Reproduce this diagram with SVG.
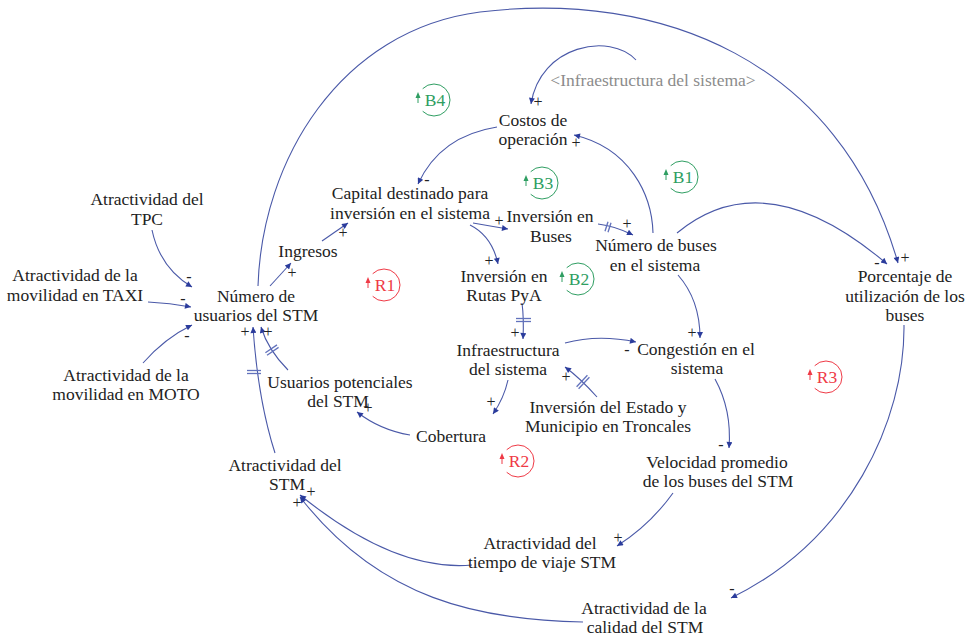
<svg xmlns="http://www.w3.org/2000/svg" width="970" height="637" viewBox="0 0 970 637" font-family="'Liberation Serif', 'Times New Roman', 'DejaVu Serif', serif">
<defs>
<style>
text{font-family:'Liberation Serif','Times New Roman','DejaVu Serif',serif}
.t{font-size:17.5px;fill:#222;text-anchor:middle}
.g{fill:#8c8c8c}
.p{font-size:16px;fill:#222;text-anchor:middle}
.c{fill:none;stroke:#4a59a8;stroke-width:1.1}
.d{stroke:#6272bc;stroke-width:1.3}
.lg{fill:none;stroke:#2f9e62;stroke-width:1}
.lr{fill:none;stroke:#ef3a46;stroke-width:1}
.tg{font-size:17.5px;fill:#2f9e62;text-anchor:middle}
.tr{font-size:17.5px;fill:#ef3a46;text-anchor:middle}
</style>
<marker id="ah" viewBox="0 0 10 10" refX="10" refY="5" markerWidth="8" markerHeight="6" markerUnits="userSpaceOnUse" orient="auto">
<path d="M0,0 L10,5 L0,10 z" fill="#2b3c9c"/>
</marker>
</defs>
<rect width="970" height="637" fill="#fff"/>

<g id="connectors">
<path class="c" marker-end="url(#ah)" d="M152,230 Q160,268 192,287"/>
<path class="c" marker-end="url(#ah)" d="M148,302 Q170,303 191,307"/>
<path class="c" marker-end="url(#ah)" d="M143,363 Q165,338 192,325"/>
<path class="c" marker-end="url(#ah)" d="M270,286 L291,263"/>
<path class="c" marker-end="url(#ah)" d="M322,241 L348,223"/>
<path class="c" marker-end="url(#ah)" d="M497,127 Q440,136 418,184"/>
<path class="c" marker-end="url(#ah)" d="M473,223 Q490,226 508,229"/>
<path class="c" marker-end="url(#ah)" d="M470,225 Q492,236 498,264"/>
<path class="c" marker-end="url(#ah)" d="M598,224 Q615,226 633,235"/>
<path class="c" marker-end="url(#ah)" d="M653,233 C652,195 630,148 574,135"/>
<path class="c" marker-end="url(#ah)" d="M636,60 C610,32 540,45 531,104"/>
<path class="c" marker-end="url(#ah)" d="M677,233 Q765,160 887,264"/>
<path class="c" marker-end="url(#ah)" d="M258,286 C262,160 340,30 480,12 C660,-10 840,60 898,263"/>
<path class="c" marker-end="url(#ah)" d="M678,275 Q700,300 700,338"/>
<path class="c" marker-end="url(#ah)" d="M522,303 Q524,318 523,339"/>
<path class="c" marker-end="url(#ah)" d="M565,343 Q598,334 636,342"/>
<path class="c" marker-end="url(#ah)" d="M597,397 Q580,378 565,367"/>
<path class="c" marker-end="url(#ah)" d="M508,380 Q504,398 493,414"/>
<path class="c" marker-end="url(#ah)" d="M410,435 Q380,430 357,412"/>
<path class="c" marker-end="url(#ah)" d="M288,370 Q268,350 261,327"/>
<path class="c" marker-end="url(#ah)" d="M275,453 Q258,400 253,327"/>
<path class="c" marker-end="url(#ah)" d="M715,379 Q732,410 729,448"/>
<path class="c" marker-end="url(#ah)" d="M673,493 Q650,525 617,546"/>
<path class="c" marker-end="url(#ah)" d="M472,565 Q395,572 300,495"/>
<path class="c" marker-end="url(#ah)" d="M583,622 C480,620 380,600 300,497"/>
<path class="c" marker-end="url(#ah)" d="M904,325 C905,420 850,540 731,598"/>
<g id="delays">
<line class="d" x1="608" y1="221.7" x2="605" y2="231.3"/>
<line class="d" x1="611" y1="222.7" x2="608" y2="232.3"/>
<line class="d" x1="516" y1="318.5" x2="531" y2="318.5"/>
<line class="d" x1="516" y1="321.5" x2="531" y2="321.5"/>
<line class="d" x1="587.4" y1="375.2" x2="576.6" y2="386.8"/>
<line class="d" x1="589.4" y1="377.2" x2="578.6" y2="388.8"/>
<line class="d" x1="277" y1="344.9" x2="265.4" y2="352.7"/>
<line class="d" x1="278.6" y1="347.4" x2="267" y2="355.2"/>
<line class="d" x1="247" y1="370.5" x2="261" y2="370.5"/>
<line class="d" x1="247" y1="373.5" x2="261" y2="373.5"/>
</g>
<g id="polarities">
<text class="p" x="189" y="282">-</text>
<text class="p" x="183" y="304">-</text>
<text class="p" x="187" y="341">-</text>
<text class="p" x="292" y="278">+</text>
<text class="p" x="343" y="238">+</text>
<text class="p" x="427" y="185">-</text>
<text class="p" x="499" y="226">+</text>
<text class="p" x="489" y="266">+</text>
<text class="p" x="627" y="229">+</text>
<text class="p" x="576" y="148">+</text>
<text class="p" x="538" y="107">+</text>
<text class="p" x="877" y="268">-</text>
<text class="p" x="905" y="263">+</text>
<text class="p" x="692" y="338">+</text>
<text class="p" x="627" y="355">-</text>
<text class="p" x="515" y="338">+</text>
<text class="p" x="566" y="382">+</text>
<text class="p" x="491" y="407">+</text>
<text class="p" x="368" y="413">+</text>
<text class="p" x="245" y="337">+</text>
<text class="p" x="268" y="337">+</text>
<text class="p" x="721" y="450">-</text>
<text class="p" x="618" y="543">+</text>
<text class="p" x="311" y="497">+</text>
<text class="p" x="297" y="508">+</text>
<text class="p" x="732" y="594">-</text>
</g>
</g>

<g id="n_tpc"><text class="t"><tspan x="147" y="205">Atractividad del</tspan><tspan x="147" y="225">TPC</tspan></text></g>
<g id="n_taxi"><text class="t"><tspan x="75" y="281">Atractividad de la</tspan><tspan x="75" y="301">movilidad en TAXI</tspan></text></g>
<g id="n_moto"><text class="t"><tspan x="126" y="381">Atractividad de la</tspan><tspan x="126" y="400">movilidad en MOTO</tspan></text></g>
<g id="n_usuarios"><text class="t"><tspan x="256" y="302">Número de</tspan><tspan x="256" y="321">usuarios del STM</tspan></text></g>
<g id="n_ingresos"><text class="t" x="308" y="257">Ingresos</text></g>
<g id="n_capital"><text class="t"><tspan x="410" y="199">Capital destinado para</tspan><tspan x="410" y="219">inversión en el sistema</tspan></text></g>
<g id="n_costos"><text class="t"><tspan x="533" y="126">Costos de</tspan><tspan x="533" y="145">operación</tspan></text></g>
<g id="n_infra_shadow"><text class="t g" x="653" y="86">&lt;Infraestructura del sistema&gt;</text></g>
<g id="n_invbuses"><text class="t"><tspan x="550" y="222">Inversión en</tspan><tspan x="551" y="242">Buses</tspan></text></g>
<g id="n_numbuses"><text class="t"><tspan x="656" y="251">Número de buses</tspan><tspan x="655" y="271">en el sistema</tspan></text></g>
<g id="n_rutas"><text class="t"><tspan x="504" y="282">Inversión en</tspan><tspan x="504" y="301">Rutas PyA</tspan></text></g>
<g id="n_infra"><text class="t"><tspan x="508" y="356">Infraestructura</tspan><tspan x="508" y="375">del sistema</tspan></text></g>
<g id="n_congestion"><text class="t"><tspan x="696" y="355">Congestión en el</tspan><tspan x="697" y="374">sistema</tspan></text></g>
<g id="n_usupot"><text class="t"><tspan x="340" y="388">Usuarios potenciales</tspan><tspan x="338" y="407">del STM</tspan></text></g>
<g id="n_cobertura"><text class="t" x="451" y="442">Cobertura</text></g>
<g id="n_estado"><text class="t"><tspan x="608" y="413">Inversión del Estado y</tspan><tspan x="608" y="432">Municipio en Troncales</tspan></text></g>
<g id="n_atrstm"><text class="t"><tspan x="285" y="471">Atractividad del</tspan><tspan x="287" y="490">STM</tspan></text></g>
<g id="n_velocidad"><text class="t"><tspan x="717" y="468">Velocidad promedio</tspan><tspan x="718" y="487">de los buses del STM</tspan></text></g>
<g id="n_tiempo"><text class="t"><tspan x="540" y="549">Atractividad del</tspan><tspan x="542" y="568">tiempo de viaje STM</tspan></text></g>
<g id="n_calidad"><text class="t"><tspan x="644" y="614">Atractividad de la</tspan><tspan x="645" y="633">calidad del STM</tspan></text></g>
<g id="n_porcentaje"><text class="t"><tspan x="905" y="282">Porcentaje de</tspan><tspan x="905" y="302">utilización de los</tspan><tspan x="905" y="321">buses</tspan></text></g>

<g id="loop_B4" transform="translate(434,100)"><path class="lg" d="M-11.3,-11.3 A16,16 0 1 1 -11.3,11.3"/><polygon points="-16,-8 -18.5,-2 -13.5,-2" fill="#2f9e62"/><line x1="-16" y1="-2" x2="-16" y2="3" stroke="#2f9e62"/><text class="tg" x="1" y="6">B4</text></g>
<g id="loop_B3" transform="translate(542,183)"><path class="lg" d="M-11.3,-11.3 A16,16 0 1 1 -11.3,11.3"/><polygon points="-16,-8 -18.5,-2 -13.5,-2" fill="#2f9e62"/><line x1="-16" y1="-2" x2="-16" y2="3" stroke="#2f9e62"/><text class="tg" x="1" y="6">B3</text></g>
<g id="loop_B1" transform="translate(682,177)"><path class="lg" d="M-11.3,-11.3 A16,16 0 1 1 -11.3,11.3"/><polygon points="-16,-8 -18.5,-2 -13.5,-2" fill="#2f9e62"/><line x1="-16" y1="-2" x2="-16" y2="3" stroke="#2f9e62"/><text class="tg" x="1" y="6">B1</text></g>
<g id="loop_B2" transform="translate(578,279)"><path class="lg" d="M-11.3,-11.3 A16,16 0 1 1 -11.3,11.3"/><polygon points="-16,-8 -18.5,-2 -13.5,-2" fill="#2f9e62"/><line x1="-16" y1="-2" x2="-16" y2="3" stroke="#2f9e62"/><text class="tg" x="1" y="6">B2</text></g>
<g id="loop_R1" transform="translate(384,285)"><path class="lr" d="M-11.3,-11.3 A16,16 0 1 1 -11.3,11.3"/><polygon points="-16,-8 -18.5,-2 -13.5,-2" fill="#ef3a46"/><line x1="-16" y1="-2" x2="-16" y2="3" stroke="#ef3a46"/><text class="tr" x="1" y="6">R1</text></g>
<g id="loop_R2" transform="translate(518,461)"><path class="lr" d="M-11.3,-11.3 A16,16 0 1 1 -11.3,11.3"/><polygon points="-16,-8 -18.5,-2 -13.5,-2" fill="#ef3a46"/><line x1="-16" y1="-2" x2="-16" y2="3" stroke="#ef3a46"/><text class="tr" x="1" y="6">R2</text></g>
<g id="loop_R3" transform="translate(826,377)"><path class="lr" d="M-11.3,-11.3 A16,16 0 1 1 -11.3,11.3"/><polygon points="-16,-8 -18.5,-2 -13.5,-2" fill="#ef3a46"/><line x1="-16" y1="-2" x2="-16" y2="3" stroke="#ef3a46"/><text class="tr" x="1" y="6">R3</text></g>
</svg>
